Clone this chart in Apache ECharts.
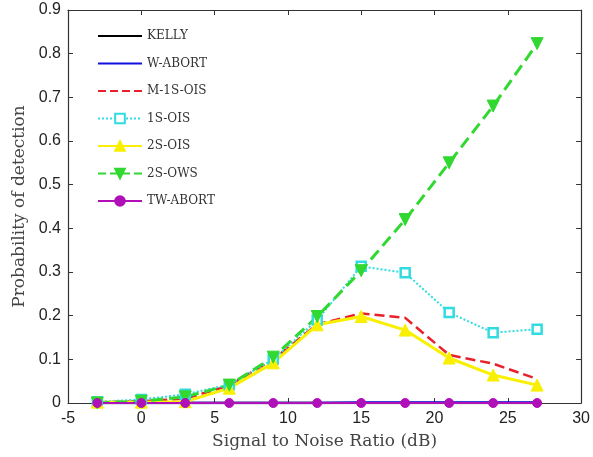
<!DOCTYPE html>
<html><head><meta charset="utf-8">
<script src="https://cdn.jsdelivr.net/npm/echarts@6/dist/echarts.min.js"></script>
<style>html,body{margin:0;padding:0;background:#fff}#c{width:593px;height:457px}</style>
</head><body><div id="c"></div>
<script>
const snr = [-3, 0, 3, 6, 9, 12, 15, 18, 21, 24, 27];
const kelly   = [0, 0, 0, 0, 0, 0, 0, 0, 0, 0, 0];
const wAbort  = [0, 0, 0, 0, 0, 0, 0.001, 0.001, 0.001, 0.001, 0.001];
const m1sOis  = [0.002, 0.004, 0.01, 0.04, 0.1, 0.18, 0.205, 0.195, 0.11, 0.09, 0.055];
const s1Ois   = [0.003, 0.008, 0.02, 0.042, 0.1, 0.19, 0.313, 0.298, 0.207, 0.161, 0.169];
const s2Ois   = [0.002, 0.002, 0.003, 0.034, 0.092, 0.179, 0.198, 0.167, 0.103, 0.064, 0.041];
const s2Ows   = [0, 0.004, 0.014, 0.041, 0.105, 0.198, 0.303, 0.42, 0.55, 0.68, 0.823];
const twAbort = [0, 0, 0, 0, 0, 0, 0, 0, 0, 0, 0];
const xTicks = [-5, 0, 5, 10, 15, 20, 25, 30];
const yTicks = [0, 0.1, 0.2, 0.3, 0.4, 0.5, 0.6, 0.7, 0.8, 0.9];

const pair = arr => snr.map((x, i) => [x, arr[i]]);
const chart = echarts.init(document.getElementById('c'));
const serif = 'DejaVu Serif';
const lbl = {color: '#222', fontSize: 16, fontFamily: 'Liberation Sans'};
const axisCommon = {
  axisLine: {show: true, onZero: false, lineStyle: {color: '#333', width: 1.2}},
  axisTick: {show: true, inside: true, length: 5, lineStyle: {color: '#333'}},
  splitLine: {show: false}
};
function mk(name, data, color, lineType, symbol, symbolSize, fill, width) {
  return {
    name, type: 'line', data: pair(data), symbol: symbol || 'none',
    symbolSize: symbolSize || 0, showSymbol: !!symbol,
    lineStyle: {color, width: width || 2.5, type: lineType},
    itemStyle: {color: fill ? color : '#fff', borderColor: color, borderWidth: fill ? 1 : 2.5},
    color, animation: false, z: 2
  };
}
const noSym = {itemStyle: {opacity: 0}};
chart.setOption({
  animation: false,
  grid: {left: 68, right: 9, top: 10, bottom: 54},
  xAxis: [
    Object.assign({type: 'value', min: -5, max: 30, interval: 5, position: 'bottom',
      name: 'Signal to Noise Ratio (dB)', nameLocation: 'middle', nameGap: 30,
      nameTextStyle: {fontFamily: serif, fontSize: 17, color: '#444'},
      axisLabel: Object.assign({margin: 8, formatter: v => xTicks.includes(v) ? String(v) : ''}, lbl)}, axisCommon),
    Object.assign({type: 'value', min: -5, max: 30, interval: 5, position: 'top',
      axisLabel: {show: false}}, axisCommon)
  ],
  yAxis: [
    Object.assign({type: 'value', min: 0, max: 0.9, interval: 0.1, position: 'left',
      name: 'Probability of detection', nameLocation: 'middle', nameGap: 40,
      nameTextStyle: {fontFamily: serif, fontSize: 17, color: '#444'},
      axisLabel: Object.assign({margin: 7, formatter: v => String(+v.toFixed(1))}, lbl)}, axisCommon),
    Object.assign({type: 'value', min: 0, max: 0.9, interval: 0.1, position: 'right',
      axisLabel: {show: false}}, axisCommon)
  ],
  legend: {
    orient: 'vertical', left: 92, top: 25, itemWidth: 44, itemHeight: 12, itemGap: 15.5,
    textStyle: {fontFamily: serif, fontSize: 12, color: '#333'},
    data: [
      Object.assign({name: 'KELLY'}, noSym),
      Object.assign({name: 'W-ABORT'}, noSym),
      Object.assign({name: 'M-1S-OIS'}, noSym),
      {name: '1S-OIS'}, {name: '2S-OIS'}, {name: '2S-OWS'}, {name: 'TW-ABORT'}
    ]
  },
  series: [
    mk('KELLY', kelly, '#000000', 'solid'),
    mk('W-ABORT', wAbort, '#1010e0', 'solid'),
    mk('M-1S-OIS', m1sOis, '#e8202a', 'dashed'),
    mk('1S-OIS', s1Ois, '#30dce0', 'dotted', 'rect', 9, false, 2),
    mk('2S-OIS', s2Ois, '#f8f000', 'solid', 'triangle', 12, true, 3),
    Object.assign(mk('2S-OWS', s2Ows, '#30d830', 'dashed', 'triangle', 12, true, 3), {symbolRotate: 180}),
    mk('TW-ABORT', twAbort, '#b010b8', 'solid', 'circle', 9, true, 2)
  ]
});
</script></body></html>
